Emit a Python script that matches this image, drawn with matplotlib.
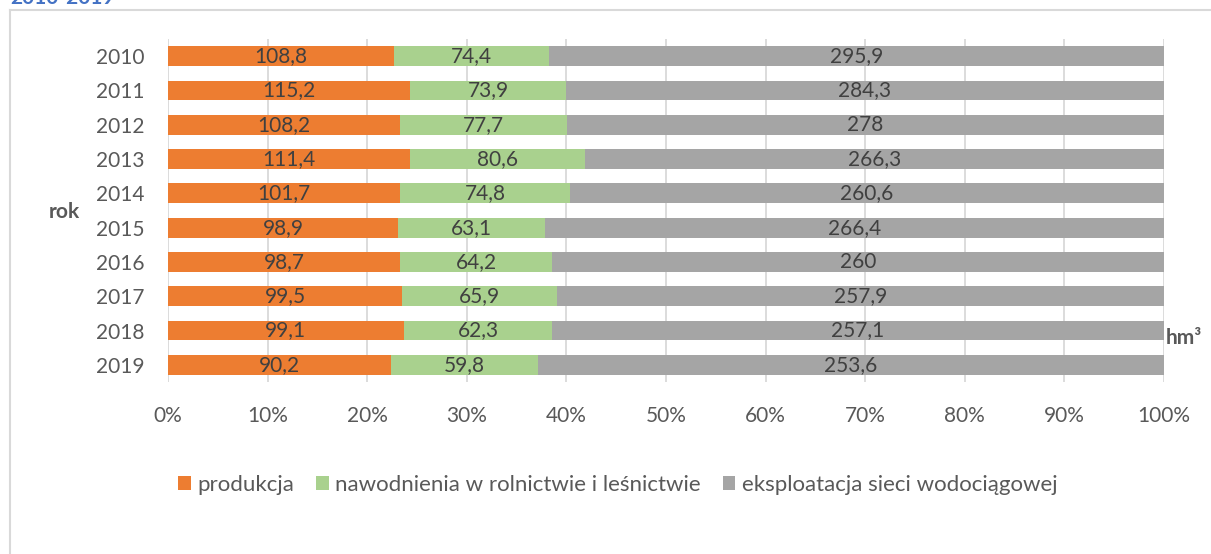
import numpy as np
import matplotlib.pyplot as plt
from matplotlib.lines import Line2D

plt.rcParams['font.family'] = ['Lato', 'DejaVu Sans']

years = ["2010", "2011", "2012", "2013", "2014", "2015", "2016", "2017", "2018", "2019"]
produkcja = [108.8, 115.2, 108.2, 111.4, 101.7, 98.9, 98.7, 99.5, 99.1, 90.2]
nawodnienia = [74.4, 73.9, 77.7, 80.6, 74.8, 63.1, 64.2, 65.9, 62.3, 59.8]
eksploatacja = [295.9, 284.3, 278, 266.3, 260.6, 266.4, 260, 257.9, 257.1, 253.6]
series_names = ["produkcja", "nawodnienia w rolnictwie i leśnictwie",
                "eksploatacja sieci wodociągowej"]
colors = ["#ED7D31", "#A9D18E", "#A5A5A5"]

W, H = 1211, 554
fig = plt.figure(figsize=(W / 100, H / 100), dpi=100)
ax = fig.add_axes([168 / W, 1 - 382 / H, (1164 - 168) / W, (382 - 39) / H])

data = np.array([produkcja, nawodnienia, eksploatacja])
totals = data.sum(axis=0)
shares = data / totals * 100
y = np.arange(len(years))

left = np.zeros(len(years))
for i in range(3):
    ax.barh(y, shares[i], left=left, height=0.58, color=colors[i],
            label=series_names[i], zorder=2)
    for j in range(len(years)):
        txt = f"{data[i, j]:g}".replace(".", ",")
        ax.text(left[j] + shares[i, j] / 2, y[j], txt, ha="center", va="center",
                fontsize=15, color="#404040", zorder=3)
    left += shares[i]

ax.set_xlim(0, 100)
ax.set_ylim(len(years) - 0.5, -0.5)
ax.set_yticks(y)
ax.set_yticklabels(years)
ax.set_xticks(np.arange(0, 101, 10))
ax.set_xticklabels([f"{v}%" for v in range(0, 101, 10)])
ax.tick_params(axis="both", length=0, labelsize=15, labelcolor="#595959")
ax.tick_params(axis="x", pad=17)
ax.tick_params(axis="y", pad=17)
ax.grid(axis="x", color="#D9D9D9", linewidth=1.3, zorder=0)
for s in ax.spines.values():
    s.set_visible(False)

fig.text(49 / W, 1 - 212 / H, "rok", fontsize=15, fontweight="bold",
         color="#595959", va="center", ha="left")
fig.text(1166 / W, 1 - 338 / H, "hm³", fontsize=15, fontweight="bold",
         color="#595959", va="center", ha="left")

fig.legend(loc="center", bbox_to_anchor=(618 / W, 1 - 485 / H), ncol=3,
           frameon=False, fontsize=16, labelcolor="#595959",
           handlelength=0.55, handleheight=0.55, handletextpad=0.3, columnspacing=1.0)

# chart frame
fig.add_artist(Line2D([10 / W, 10 / W], [0, 1 - 10 / H], color="#D9D9D9", linewidth=1.5))
fig.add_artist(Line2D([10 / W, 1], [1 - 10 / H, 1 - 10 / H], color="#D9D9D9", linewidth=1.5))

# title of the chart, cut off at the top edge as in the source
fig.text(10 / W, 1 + 2 / H, "2010-2019", fontsize=15, fontweight="bold",
         color="#4472C4", va="center", ha="left")

fig.savefig("out.png", dpi=100)
